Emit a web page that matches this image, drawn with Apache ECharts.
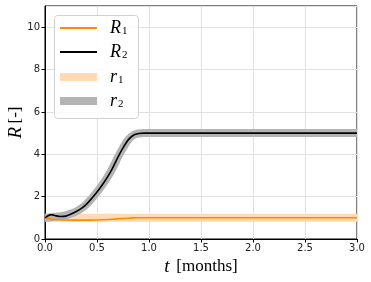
<!DOCTYPE html>
<html><head><meta charset="utf-8">
<script src="https://cdn.jsdelivr.net/npm/echarts@6/dist/echarts.min.js"></script>
<style>html,body{margin:0;padding:0;background:#fff}#c{width:371px;height:282px}</style>
</head><body><div id="c"></div>
<script>
var tR2 = [0, 0.03, 0.06, 0.1, 0.15, 0.2, 0.25, 0.3, 0.35, 0.4, 0.45, 0.5, 0.55, 0.6, 0.65, 0.7, 0.75, 0.8, 0.85, 0.9, 0.95, 1.0, 3.0];
var R2 = [1.0, 1.1, 1.15, 1.1, 1.06, 1.08, 1.18, 1.3, 1.45, 1.65, 1.92, 2.22, 2.55, 2.92, 3.35, 3.85, 4.3, 4.68, 4.9, 4.98, 5.0, 5.0, 5.0];
var r2 = [1.0, 1.01, 1.02, 1.05, 1.08, 1.12, 1.2, 1.3, 1.45, 1.65, 1.92, 2.22, 2.55, 2.92, 3.35, 3.85, 4.3, 4.68, 4.9, 4.98, 5.0, 5.0, 5.0];
var tR1 = [0, 0.05, 0.1, 0.2, 0.3, 0.4, 0.5, 0.6, 0.7, 0.8, 0.85, 0.9, 3.0];
var R1 = [1.0, 0.95, 0.92, 0.9, 0.89, 0.89, 0.9, 0.92, 0.95, 0.98, 0.995, 1.0, 1.0];
var tr1 = [0, 3.0];
var r1 = [1.0, 1.0];
var xTicks = [0, 0.5, 1.0, 1.5, 2.0, 2.5, 3.0];
var yTicks = [0, 2, 4, 6, 8, 10];

function pairs(t, v) { return t.map(function (x, i) { return [x, v[i]]; }); }

var chart = echarts.init(document.getElementById('c'), null, {renderer: 'canvas'});
var rich = {
  i: {fontFamily: 'Liberation Serif', fontStyle: 'italic', fontSize: 18, color: '#000'},
  s: {fontFamily: 'Liberation Serif', fontSize: 11, color: '#000', padding: [7, 0, 0, 1]}
};
function leg(name, center, h) {
  return {
    data: [name], left: 60, top: center - 10, padding: 0, icon: 'rect',
    itemWidth: 37, itemHeight: h, selectedMode: false, z: 6,
    formatter: function (n) { return '{i|' + n[0] + '}{s|' + n[1] + '}'; },
    textStyle: {rich: rich, padding: [0, 0, 0, 8], lineHeight: 20}
  };
}
var serif = 'Liberation Serif';
chart.setOption({
  animation: false,
  grid: {left: 45, right: 14, top: 6, bottom: 43, show: true, borderColor: '#000', borderWidth: 1,
    containLabel: false, outerBoundsMode: 'none'},
  xAxis: {
    type: 'value', min: 0, max: 3, interval: 0.5,
    axisLine: {show: true, lineStyle: {color: '#000'}},
    axisTick: {show: true, length: 3.5, lineStyle: {color: '#000'}},
    axisLabel: {color: '#222', fontSize: 10, fontFamily: 'DejaVu Sans', margin: 4,
      formatter: function (v) { return v.toFixed(1); }},
    splitLine: {show: true, lineStyle: {color: '#e0e0e0', width: 1}},
    name: '{i|t}  {n|[months]}', nameLocation: 'middle', nameGap: 18, nameMoveOverlap: false,
    nameTextStyle: {rich: {
      i: {fontFamily: serif, fontStyle: 'italic', fontSize: 19, color: '#000'},
      n: {fontFamily: serif, fontSize: 17, color: '#000'}}}
  },
  yAxis: {
    type: 'value', min: 0, max: 11, interval: 2,
    axisLine: {show: true, lineStyle: {color: '#000'}},
    axisTick: {show: true, length: 3.5, lineStyle: {color: '#000'}},
    axisLabel: {color: '#222', fontSize: 10, fontFamily: 'DejaVu Sans', margin: 5,
      showMaxLabel: false,
      formatter: function (v) { return yTicks.indexOf(v) >= 0 ? String(v) : ''; }},
    splitLine: {show: true, lineStyle: {color: '#e0e0e0', width: 1}},
    name: '{i|R} {n|[-]}', nameLocation: 'middle', nameGap: 20, nameRotate: 90, nameMoveOverlap: false,
    nameTextStyle: {rich: {
      i: {fontFamily: serif, fontStyle: 'italic', fontSize: 19, color: '#000'},
      n: {fontFamily: serif, fontSize: 17, color: '#000'}}}
  },
  legend: [leg('R1', 28, 2), leg('R2', 52, 2), leg('r1', 77, 8), leg('r2', 101, 8)],
  graphic: [{
    type: 'rect', z: 5, left: 54, top: 15,
    shape: {width: 84, height: 103, r: 3},
    style: {fill: 'rgba(255,255,255,0.85)', stroke: '#d0d0d0', lineWidth: 1}
  }],
  series: [
    {name: 'r1', type: 'line', data: pairs(tr1, r1), showSymbol: false, symbol: 'none', z: 2,
      color: '#ffdab3', itemStyle: {color: '#ffdab3'}, lineStyle: {color: '#ffdab3', width: 8}},
    {name: 'r2', type: 'line', data: pairs(tR2, r2), showSymbol: false, symbol: 'none', smooth: 0.3, z: 2,
      color: '#b3b3b3', itemStyle: {color: '#b3b3b3'}, lineStyle: {color: '#b3b3b3', width: 8}},
    {name: 'R1', type: 'line', data: pairs(tR1, R1), showSymbol: false, symbol: 'none', smooth: 0.3, z: 3,
      color: '#ff8c00', itemStyle: {color: '#ff8c00'}, lineStyle: {color: '#ff8c00', width: 1.6}},
    {name: 'R2', type: 'line', data: pairs(tR2, R2), showSymbol: false, symbol: 'none', smooth: 0.3, z: 3,
      color: '#000', itemStyle: {color: '#000'}, lineStyle: {color: '#000', width: 1.6}}
  ]
});
</script></body></html>
